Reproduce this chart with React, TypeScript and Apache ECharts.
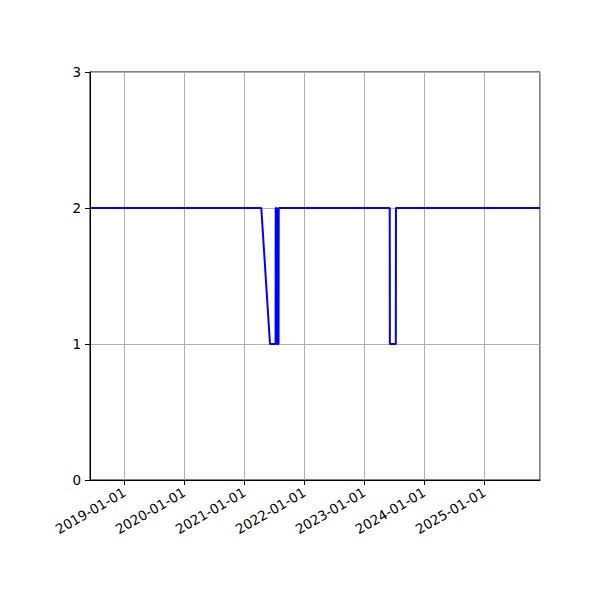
import React, { useEffect, useRef } from 'react';
import * as echarts from 'echarts';

const dates = [
	'2018-06-06',
	'2021-04-14',
	'2021-06-06',
	'2021-07-10',
	'2021-07-11',
	'2021-07-17',
	'2021-07-18',
	'2021-07-28',
	'2021-07-29',
	'2023-06-05',
	'2023-06-06',
	'2023-07-12',
	'2023-07-13',
	'2025-12-06'
];
const values = [2, 2, 1, 1, 2, 2, 1, 1, 2, 2, 1, 1, 2, 2];
const yTicks = [0, 1, 2, 3];

const xMin = '2018-06-06';
const xMax = '2025-12-06';

const FONT = 'DejaVu Sans';

const pad = (n: number) => (n < 10 ? '0' + n : '' + n);

const App: React.FC = () => {
	const chartRef = useRef<HTMLDivElement>(null);

	useEffect(() => {
		if (!chartRef.current) return;
		const chart = echarts.init(chartRef.current, undefined, { renderer: 'svg' });

		const option: echarts.EChartsOption = {
			animation: false,
			backgroundColor: '#ffffff',
			grid: {
				left: 90,
				right: 60,
				top: 72,
				bottom: 120,
				show: true,
				borderColor: '#000000',
				borderWidth: 1,
				backgroundColor: 'transparent'
			},
			xAxis: {
				type: 'time',
				min: xMin,
				max: xMax,
				minInterval: 365 * 86400000,
				maxInterval: 366 * 86400000,
				axisLine: { show: true, lineStyle: { color: '#000000', width: 1 } },
				axisTick: { show: true, length: 5, lineStyle: { color: '#000000' } },
				splitLine: { show: true, lineStyle: { color: '#b0b0b0', width: 1 } },
				axisLabel: {
					rotate: 30,
					color: '#000000',
					fontFamily: FONT,
					fontSize: 13.5,
					margin: 11,
					showMinLabel: false,
					showMaxLabel: false,
					formatter: (v: number) => {
						const d = new Date(v);
						return `${d.getFullYear()}-${pad(d.getMonth() + 1)}-${pad(d.getDate())}`;
					}
				}
			},
			yAxis: {
				type: 'value',
				min: yTicks[0],
				max: yTicks[yTicks.length - 1],
				interval: 1,
				axisLine: { show: true, lineStyle: { color: '#000000', width: 1 } },
				axisTick: { show: true, length: 5, lineStyle: { color: '#000000' } },
				splitLine: { show: true, lineStyle: { color: '#b0b0b0', width: 1 } },
				axisLabel: {
					color: '#000000',
					fontFamily: FONT,
					fontSize: 13.5,
					margin: 9
				}
			},
			series: [
				{
					type: 'line',
					data: dates.map((d, i) => [d, values[i]]),
					showSymbol: false,
					lineStyle: { color: '#0000ff', width: 2 },
					itemStyle: { color: '#0000ff' }
				}
			]
		};

		chart.setOption(option);

		return () => {
			chart.dispose();
		};
	}, []);

	return (
		<div
			ref={chartRef}
			style={{ position: 'fixed', left: 0, top: 0, width: '600px', height: '600px' }}
		/>
	);
};

export default App;
